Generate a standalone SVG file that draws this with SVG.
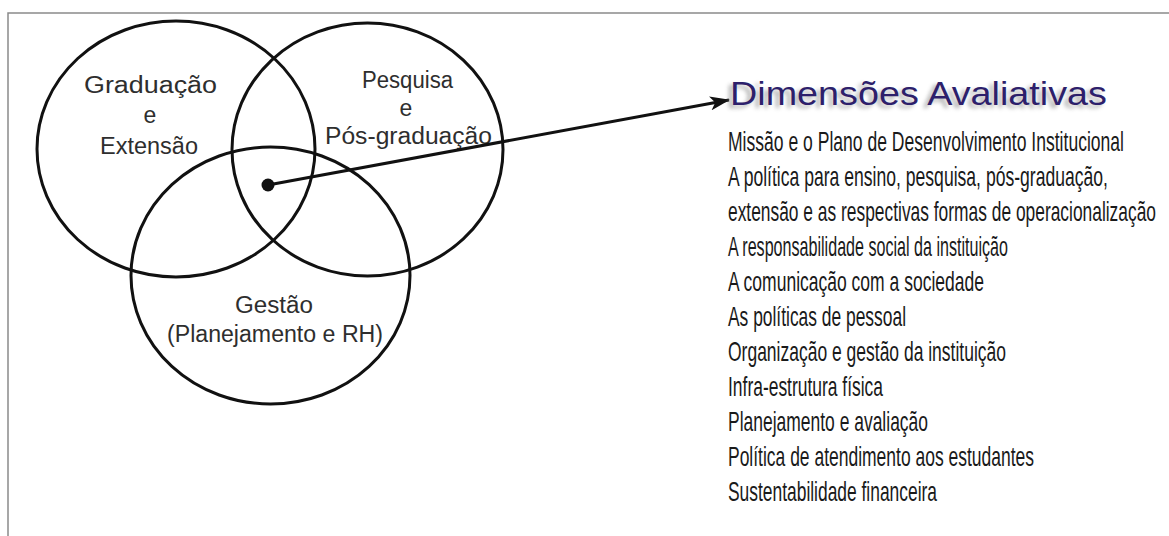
<svg xmlns="http://www.w3.org/2000/svg" width="1169" height="536" viewBox="0 0 1169 536">
  <style>
    .ring { fill: none; stroke: #111; stroke-width: 3; }
    .lbl { font-family: "Liberation Sans", "DejaVu Sans", sans-serif; font-size: 23px; fill: #2e2e2e; text-anchor: start; }
    .lblc { font-family: "Liberation Sans", "DejaVu Sans", sans-serif; font-size: 23px; fill: #2e2e2e; text-anchor: middle; }
    .title { font-family: "Liberation Sans", "DejaVu Sans", sans-serif; font-size: 33px; fill: #2d1f6b; }
    .shadow { font-family: "Liberation Sans", "DejaVu Sans", sans-serif; font-size: 33px; fill: #8a8a8a; opacity: 0.7; }
    .item { font-family: "Liberation Sans Narrow", "Liberation Sans", sans-serif; font-size: 27.5px; fill: #1a1a1a; }
    .frame { stroke: #8a8a8a; stroke-width: 1.5; fill: none; }
    .conn { stroke: #111; stroke-width: 3; fill: none; }
  </style>
  <defs>
    <filter id="blur" x="-5%" y="-30%" width="110%" height="160%">
      <feGaussianBlur stdDeviation="2"/>
    </filter>
    <marker id="arrow" markerWidth="20" markerHeight="14" refX="19" refY="7" orient="auto" markerUnits="userSpaceOnUse">
      <path d="M0,0 L20,7 L0,14 L5,7 Z" fill="#111"/>
    </marker>
  </defs>
  <rect width="1169" height="536" fill="#ffffff"/>
  <g id="frame">
    <path class="frame" d="M8,536 L8,13 L1169,13"/>
  </g>

  <g id="node-graduacao">
    <ellipse class="ring" cx="176" cy="149" rx="139" ry="128"/>
    <text class="lbl" x="84" y="93" textLength="133" lengthAdjust="spacingAndGlyphs">Graduação</text>
    <text class="lblc" x="150" y="123">e</text>
    <text class="lbl" x="100" y="154" textLength="98" lengthAdjust="spacingAndGlyphs">Extensão</text>
  </g>

  <g id="node-pesquisa">
    <ellipse class="ring" cx="367.5" cy="149.5" rx="135.5" ry="126.5"/>
    <text class="lbl" x="362" y="88" textLength="91" lengthAdjust="spacingAndGlyphs">Pesquisa</text>
    <text class="lblc" x="406" y="116">e</text>
    <text class="lbl" x="325" y="144" textLength="167" lengthAdjust="spacingAndGlyphs">Pós-graduação</text>
  </g>

  <g id="node-gestao">
    <ellipse class="ring" cx="270.5" cy="275.5" rx="139.5" ry="128.5"/>
    <text class="lbl" x="235" y="313" textLength="78" lengthAdjust="spacingAndGlyphs">Gestão</text>
    <text class="lbl" x="167" y="342" textLength="216" lengthAdjust="spacingAndGlyphs">(Planejamento e RH)</text>
  </g>

  <g id="connectors">
    <circle cx="268" cy="185" r="6.5" fill="#111"/>
    <line class="conn" x1="268" y1="185" x2="729" y2="100" marker-end="url(#arrow)"/>
  </g>

  <g id="node-dimensoes">
    <text class="shadow" x="726" y="108" textLength="377" lengthAdjust="spacingAndGlyphs" filter="url(#blur)">Dimensões Avaliativas</text>
    <text class="title" x="730" y="105" textLength="377" lengthAdjust="spacingAndGlyphs">Dimensões Avaliativas</text>
  </g>

  <g id="node-lista">
    <text class="item" x="728" y="151" textLength="396" lengthAdjust="spacingAndGlyphs">Missão e o Plano de Desenvolvimento Institucional</text>
    <text class="item" x="728" y="186" textLength="380" lengthAdjust="spacingAndGlyphs">A política para ensino, pesquisa, pós-graduação,</text>
    <text class="item" x="728" y="221" textLength="428" lengthAdjust="spacingAndGlyphs">extensão e as respectivas formas de operacionalização</text>
    <text class="item" x="728" y="256" textLength="280" lengthAdjust="spacingAndGlyphs">A responsabilidade social da instituição</text>
    <text class="item" x="728" y="291" textLength="256" lengthAdjust="spacingAndGlyphs">A comunicação com a sociedade</text>
    <text class="item" x="728" y="326" textLength="178" lengthAdjust="spacingAndGlyphs">As políticas de pessoal</text>
    <text class="item" x="728" y="361" textLength="278" lengthAdjust="spacingAndGlyphs">Organização e gestão da instituição</text>
    <text class="item" x="728" y="396" textLength="155" lengthAdjust="spacingAndGlyphs">Infra-estrutura física</text>
    <text class="item" x="728" y="431" textLength="200" lengthAdjust="spacingAndGlyphs">Planejamento e avaliação</text>
    <text class="item" x="728" y="466" textLength="306" lengthAdjust="spacingAndGlyphs">Política de atendimento aos estudantes</text>
    <text class="item" x="728" y="501" textLength="209" lengthAdjust="spacingAndGlyphs">Sustentabilidade financeira</text>
  </g>
</svg>
